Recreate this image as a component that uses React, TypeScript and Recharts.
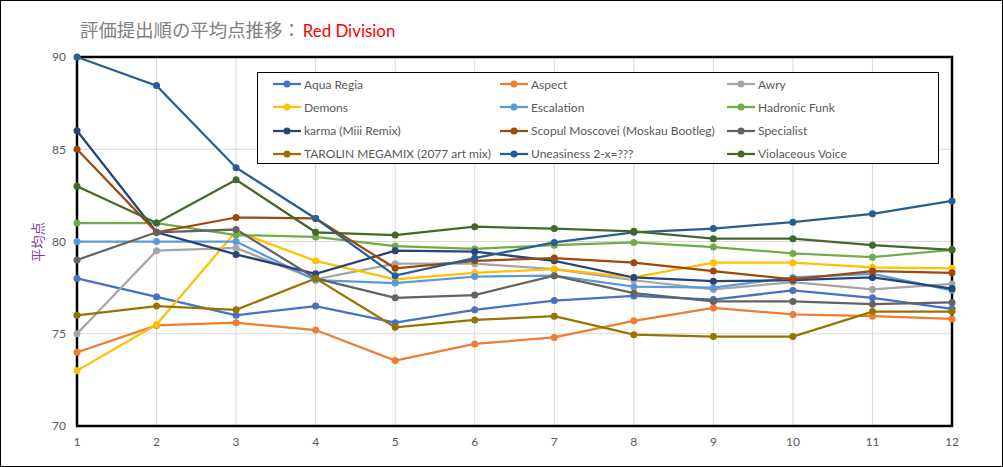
import React from "react";
import {
  LineChart,
  Line,
  XAxis,
  YAxis,
  CartesianGrid,
  ReferenceArea,
  Legend,
} from "recharts";

const categories = ["1", "2", "3", "4", "5", "6", "7", "8", "9", "10", "11", "12"];

const aquaRegia = [78, 77, 76, 76.5, 75.6, 76.3, 76.8, 77.05, 76.85, 77.35, 76.95, 76.35];
const aspect = [74, 75.45, 75.6, 75.2, 73.55, 74.45, 74.8, 75.7, 76.4, 76.05, 75.95, 75.8];
const awry = [75, 79.5, 79.65, 77.95, 78.8, 78.8, 78.5, 77.9, 77.4, 77.8, 77.4, 77.7];
const demons = [73, 75.5, 80.55, 78.95, 77.95, 78.3, 78.5, 78.05, 78.85, 78.85, 78.6, 78.55];
const escalation = [80, 80, 80, 77.9, 77.75, 78.1, 78.15, 77.55, 77.5, 78.05, 78.25, 77.35];
const hadronicFunk = [81, 81, 80.35, 80.25, 79.75, 79.6, 79.8, 79.95, 79.7, 79.35, 79.15, 79.55];
const karma = [86, 80.5, 79.3, 78.25, 79.5, 79.45, 78.95, 78.05, 77.85, 77.9, 78.05, 77.45];
const scopul = [85, 80.5, 81.3, 81.25, 78.55, 78.95, 79.1, 78.85, 78.4, 77.95, 78.4, 78.3];
const specialist = [79, 80.5, 80.65, 78, 76.95, 77.1, 78.15, 77.2, 76.75, 76.75, 76.6, 76.7];
const tarolin = [76, 76.5, 76.3, 78, 75.35, 75.75, 75.95, 74.95, 74.85, 74.85, 76.2, 76.2];
const uneasiness = [90, 88.45, 84, 81.25, 78.15, 79.1, 79.95, 80.5, 80.7, 81.05, 81.5, 82.2];
const violaceous = [83, 81, 83.35, 80.5, 80.35, 80.8, 80.7, 80.55, 80.15, 80.15, 79.8, 79.55];

const yTicks = [70, 75, 80, 85, 90];

const series = [
  { key: "aquaRegia", name: "Aqua Regia", color: "#4472C4", values: aquaRegia },
  { key: "aspect", name: "Aspect", color: "#ED7D31", values: aspect },
  { key: "awry", name: "Awry", color: "#A5A5A5", values: awry },
  { key: "demons", name: "Demons", color: "#FFC000", values: demons },
  { key: "escalation", name: "Escalation", color: "#5B9BD5", values: escalation },
  { key: "hadronicFunk", name: "Hadronic Funk", color: "#70AD47", values: hadronicFunk },
  { key: "karma", name: "karma (Miii Remix)", color: "#264478", values: karma },
  { key: "scopul", name: "Scopul Moscovei (Moskau Bootleg)", color: "#9E480E", values: scopul },
  { key: "specialist", name: "Specialist", color: "#636363", values: specialist },
  { key: "tarolin", name: "TAROLIN MEGAMIX (2077 art mix)", color: "#997300", values: tarolin },
  { key: "uneasiness", name: "Uneasiness 2-x=???", color: "#255E91", values: uneasiness },
  { key: "violaceous", name: "Violaceous Voice", color: "#43682B", values: violaceous },
];

const data = categories.map((c, i) => {
  const row: Record<string, number | string> = { cat: c };
  series.forEach((s) => {
    row[s.key] = s.values[i];
  });
  return row;
});

const FONT = "Lato, 'Noto Sans', sans-serif";

const LegendBox = () => (
  <div
    style={{
      position: "relative",
      width: 682,
      height: 92,
      border: "1px solid #000",
      boxSizing: "border-box",
      background: "#fff",
      fontFamily: FONT,
      fontSize: 12,
      color: "#595959",
    }}
  >
    {series.map((s, i) => {
      const col = i % 3;
      const row = Math.floor(i / 3);
      return (
        <div
          key={s.key}
          style={{
            position: "absolute",
            left: 15 + col * 227,
            top: row * 23.3,
            height: 22,
            display: "flex",
            alignItems: "center",
            whiteSpace: "nowrap",
          }}
        >
          <svg width={30} height={10} style={{ display: "block" }}>
            <line x1={0} y1={5} x2={28} y2={5} stroke={s.color} strokeWidth={2.25} />
            <circle cx={14} cy={5} r={3.5} fill={s.color} />
          </svg>
          <span style={{ marginLeft: 1 }}>{s.name}</span>
        </div>
      );
    })}
  </div>
);

export default function App() {
  return (
    <div
      style={{
        position: "absolute",
        left: 0,
        top: 0,
        width: 1003,
        height: 467,
        background: "#fff",
        overflow: "hidden",
      }}
    >
      <LineChart
        width={1003}
        height={467}
        data={data}
        margin={{ top: 57, right: 51, left: 0, bottom: 0 }}
      >
        <CartesianGrid stroke="#D9D9D9" strokeWidth={1} />
        <XAxis
          dataKey="cat"
          height={41}
          axisLine={false}
          tickLine={false}
          tickSize={0}
          tickMargin={11}
          interval={0}
          padding={{ left: 0, right: 0 }}
          tick={{ fill: "#595959", fontSize: 12, fontFamily: FONT }}
        />
        <YAxis
          width={77}
          domain={[70, 90]}
          ticks={yTicks}
          axisLine={false}
          tickLine={false}
          tickSize={0}
          tickMargin={11}
          interval={0}
          tick={{ fill: "#595959", fontSize: 12, fontFamily: FONT }}
        />
        <ReferenceArea
          x1="1"
          x2="12"
          y1={70}
          y2={90}
          fill="none"
          fillOpacity={0}
          stroke="#000"
          strokeWidth={2.5}
          ifOverflow="visible"
        />
        {series.map((s) => (
          <Line
            key={s.key}
            type="linear"
            dataKey={s.key}
            name={s.name}
            stroke={s.color}
            strokeWidth={2.25}
            dot={{ r: 3.5, fill: s.color, stroke: s.color, strokeWidth: 0 }}
            activeDot={false}
            isAnimationActive={false}
          />
        ))}
        <Legend
          layout="horizontal"
          verticalAlign="middle"
          align="center"
          content={() => <LegendBox />}
          wrapperStyle={{ position: "absolute", left: 257, top: 72, width: 682, height: 92 }}
        />
      </LineChart>
      <div
        style={{
          position: "absolute",
          left: 80,
          top: 20,
          lineHeight: "19px",
          fontSize: 18.4,
          whiteSpace: "nowrap",
          fontFamily: "'Noto Sans CJK JP', sans-serif",
          color: "#808080",
        }}
      >
        評価提出順の平均点推移：
        <span style={{ color: "#FF0000", fontFamily: FONT, fontSize: 16.9, marginLeft: 2 }}>Red Division</span>
      </div>
      <div
        style={{
          position: "absolute",
          left: 37.5,
          top: 242,
          transform: "translate(-50%, -50%) rotate(-90deg)",
          fontSize: 13.3,
          lineHeight: "16px",
          whiteSpace: "nowrap",
          fontFamily: "'Noto Sans CJK JP', sans-serif",
          color: "#7F3F98",
        }}
      >
        平均点
      </div>
      <div
        style={{
          position: "absolute",
          left: 0,
          top: 0,
          width: 1003,
          height: 467,
          border: "1px solid #000",
          boxSizing: "border-box",
          pointerEvents: "none",
        }}
      />
    </div>
  );
}
